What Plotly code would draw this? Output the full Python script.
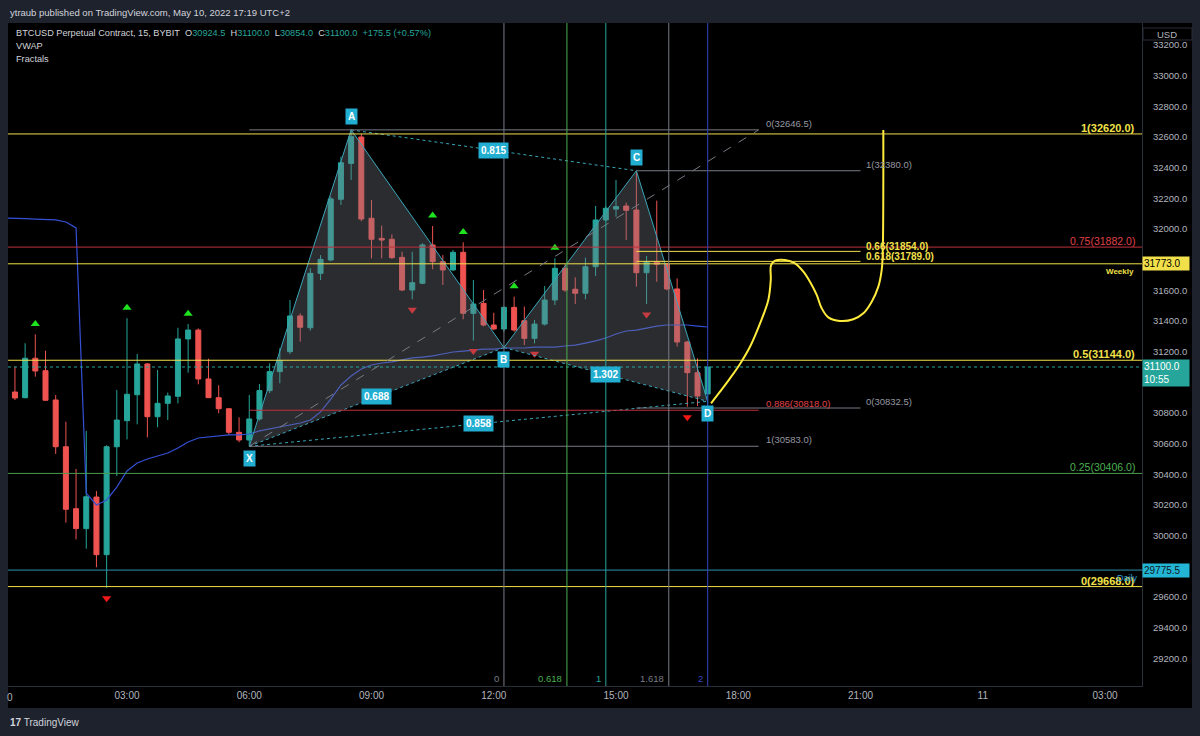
import plotly.graph_objects as go

# ---------------- data ----------------
bar_index = list(range(70))  # 15-minute bars from 00:00 (UTC+2), May 10
open_ = [30820, 30937, 30900, 31157, 31076, 30885, 30580, 30176, 30046, 30252,
         29876, 30580, 30750, 30919, 31120, 30776, 30863, 30909, 31283, 31341,
         31022, 30900, 30828, 30674, 30624, 30761, 30946, 31070, 31200, 31433,
         31356, 31711, 31798, 32194, 32428, 32600, 32070, 31939, 31933, 31815,
         31602, 31646, 31896, 31787, 31733, 31848, 31450, 31515, 31374, 31348,
         31489, 31402, 31287, 31380, 31537, 31744, 31607, 31581, 31754, 32059,
         32130, 32150, 32124, 31715, 31787, 31770, 31609, 31263, 31063, 30924.5]
high = [30960, 31102, 31255, 31313, 31206, 30917, 30743, 30435, 30683, 30291,
        30590, 30950, 31418, 31185, 31125, 31080, 30933, 31356, 31380, 31352,
        31154, 30981, 30830, 30772, 30917, 30989, 31124, 31222, 31537, 31450,
        31744, 31830, 32211, 32472, 32646.5, 32620, 32189, 32022, 31965, 31852,
        31852, 31907, 32020, 31830, 31863, 31913, 31667, 31602, 31454, 31495,
        31559, 31494, 31407, 31628, 31809, 31770, 31685, 31813, 32150, 32150,
        32320, 32172, 32380, 31824, 32185, 31780, 31678, 31270, 31157, 31100]
low = [30800, 30885, 30895, 31037, 30880, 30533, 30085, 29976, 29915, 29794,
       29660, 30389, 30628, 30726, 30641, 30707, 30754, 30863, 31063, 30987,
       30898, 30798, 30657, 30609, 30583, 30750, 30930, 30994, 31185, 31265,
       31337, 31667, 31790, 32157, 32320, 32050, 31809, 31809, 31805, 31595,
       31541, 31640, 31737, 31635, 31725, 31411, 31272, 31365, 31340, 31330,
       31330, 31243, 31254, 31370, 31504, 31590, 31511, 31541, 31693, 32050,
       32080, 31928, 31624, 31511, 31656, 31600, 31233, 30841, 30846, 30854]
close = [30937, 30898, 31157, 31074, 30883, 30580, 30172, 30046, 30254, 29876,
         30580, 30754, 30922, 31120, 30776, 30863, 30911, 31283, 31341, 31022,
         30900, 30828, 30674, 30624, 30761, 30946, 31070, 31142, 31433, 31359,
         31711, 31802, 32196, 32432, 32602, 32065, 31933, 31928, 31813, 31602,
         31650, 31896, 31787, 31733, 31848, 31450, 31511, 31374, 31348, 31489,
         31341, 31287, 31380, 31537, 31744, 31602, 31581, 31754, 32059, 32135,
         32146, 32122, 31715, 31787, 31770, 31609, 31263, 31063, 30911, 31100]
vwap = [32072, 32072, 32068, 32065, 32062, 32059, 32046, 32007, 30278, 30200,
        30233, 30317, 30422, 30474, 30500, 30520, 30539, 30572, 30611, 30637,
        30643, 30650, 30657, 30657, 30663, 30683, 30696, 30709, 30722, 30735,
        30754, 30807, 30891, 30983, 31041, 31087, 31113, 31126, 31133, 31146,
        31159, 31165, 31172, 31185, 31198, 31204, 31211, 31217, 31217, 31224,
        31224, 31224, 31230, 31230, 31230, 31237, 31243, 31256, 31270, 31289,
        31315, 31335, 31341, 31354, 31367, 31374, 31374, 31374, 31367, 31361]
fractal_up_bars = [3, 12, 18, 42, 45, 50, 54]
fractal_down_bars = [10, 40, 46, 52, 63, 67]

pattern_names = ["X", "A", "B", "C", "D"]
pattern_bars = [24, 34, 49, 62, 69]
pattern_prices = [30583.0, 32646.5, 31227.0, 32380.0, 30876.0]
ratio_texts = {"AC": "0.815", "XB": "0.688", "XD": "0.858", "BD": "1.302"}

fib_main_levels = ["1", "0.75", "0.5", "0.25", "0"]
fib_main_prices = [32620.0, 31882.0, 31144.0, 30406.0, 29668.0]
fib_main_colors = ["#f2e04a", "#c0303d", "#f2e04a", "#4a9a4c", "#f2e04a"]
fib_main_label_colors = ["#f2e04a", "#e0404a", "#f2e04a", "#4caf50", "#f2e04a"]

fib_xa_levels = ["0", "0.886", "1"]
fib_xa_prices = [32646.5, 30818.0, 30583.0]
fib_xa_colors = ["#787b86", "#c0303d", "#787b86"]
fib_xa_label_colors = ["#9598a1", "#e0404a", "#9598a1"]
fib_xa_bars = [24, 74]

fib_cd_levels = ["1", "0.66", "0.618", "0"]
fib_cd_prices = [32380.0, 31854.0, 31789.0, 30832.5]
fib_cd_colors = ["#787b86", "#f2e04a", "#f2e04a", "#787b86"]
fib_cd_label_colors = ["#9598a1", "#f2e04a", "#f2e04a", "#9598a1"]
fib_cd_bars = [62, 84]

time_zone_start = 49
time_zone_step = 10
time_zone_levels = [0, 0.618, 1, 1.618, 2]
time_zone_labels = ["0", "0.618", "1", "1.618", "2"]
time_zone_colors = ["#787b86", "#4caf50", "#26a69a", "#787b86", "#3346c4"]

daily_level = 29775.5
weekly_level = 31773.0
last_price = 31100.0

brush_bars = [69.33, 70.21, 71.19, 72.17, 73.15, 74.14, 74.95, 75.19, 75.22, 75.61,
              76.59, 77.57, 78.39, 79.04, 79.70, 80.19, 80.84, 81.99, 83.29, 84.28,
              85.10, 85.75, 86.08, 86.18, 86.24]
brush_prices = [30863, 30939, 31026, 31120, 31232, 31385, 31537, 31667, 31765, 31793,
                31798, 31776, 31722, 31656, 31570, 31483, 31424, 31400, 31411, 31450,
                31526, 31624, 31733, 31842, 32646]

time_tick_bars = [12, 24, 36, 48, 60, 72, 84, 96, 108]
time_tick_text = ["03:00", "06:00", "09:00", "12:00", "15:00", "18:00", "21:00", "11", "03:00"]
price_ticks = list(range(29200, 33201, 200))

# ---------------- style ----------------
W, H = 1200, 736
L, R, T, B = 8, 58, 23, 50
UP, DN = "#26a69a", "#ef5350"
EDGE = "#3aa6b9"
BOX = "#22aed1"
FRAME = "#1e222d"
FONT = "Liberation Sans"
XR = [0.319, 111.63]
YR = [29019.6, 33343.5]
PW, PH = W - L - R, H - T - B


def px_x(px):
    return (px - L) / PW


def px_y(py):
    return (H - B - py) / PH


fig = go.Figure()

fig.add_trace(go.Candlestick(
    x=bar_index, open=open_, high=high, low=low, close=close,
    increasing=dict(line=dict(color=UP, width=1), fillcolor=UP),
    decreasing=dict(line=dict(color=DN, width=1), fillcolor=DN),
    whiskerwidth=0, showlegend=False, hoverinfo="skip"))

fig.add_trace(go.Scatter(x=bar_index, y=vwap, mode="lines",
                         line=dict(color="#3550d6", width=1.2), hoverinfo="skip"))

FOFF = 68
fig.add_trace(go.Scatter(x=fractal_up_bars, y=[high[i] + FOFF for i in fractal_up_bars],
                         mode="markers", marker=dict(symbol="triangle-up", size=8, color="#1ee31e"),
                         hoverinfo="skip"))
fig.add_trace(go.Scatter(x=fractal_down_bars, y=[low[i] - FOFF for i in fractal_down_bars],
                         mode="markers", marker=dict(symbol="triangle-down", size=8, color="#f21818"),
                         hoverinfo="skip"))

P = dict(zip(pattern_names, zip(pattern_bars, pattern_prices)))
for tri in (["X", "A", "B"], ["B", "C", "D"]):
    xs = [P[n][0] for n in tri] + [P[tri[0]][0]]
    ys = [P[n][1] for n in tri] + [P[tri[0]][1]]
    fig.add_trace(go.Scatter(x=xs, y=ys, mode="lines", fill="toself",
                             fillcolor="rgba(120,123,134,0.36)", line=dict(width=0),
                             hoverinfo="skip"))
fig.add_trace(go.Scatter(x=[P[n][0] for n in "XABCD"], y=[P[n][1] for n in "XABCD"],
                         mode="lines", line=dict(color=EDGE, width=1), hoverinfo="skip"))
for a, b in (("X", "B"), ("B", "D"), ("A", "C"), ("X", "D")):
    fig.add_trace(go.Scatter(x=[P[a][0], P[b][0]], y=[P[a][1], P[b][1]], mode="lines",
                             line=dict(color=EDGE, width=1, dash="dot"), hoverinfo="skip"))

fig.add_trace(go.Scatter(x=brush_bars, y=brush_prices, mode="lines",
                         line=dict(color="#ffeb3b", width=2, shape="spline"), hoverinfo="skip"))

shapes = []
ann = []
# black chart frame (plot + axes)
shapes.append(dict(type="rect", xref="paper", yref="paper", x0=px_x(8), x1=px_x(1192),
                   y0=px_y(708), y1=px_y(23), fillcolor="#000000", line=dict(width=0), layer="below"))
# USD unit box on the price axis
shapes.append(dict(type="rect", xref="paper", yref="paper", x0=px_x(1143), x1=px_x(1192),
                   y0=px_y(40), y1=px_y(28), fillcolor="#000000", line=dict(color="#2a2e39", width=1)))

# full-width fib levels
for lv, p, c, lc in zip(fib_main_levels, fib_main_prices, fib_main_colors, fib_main_label_colors):
    shapes.append(dict(type="line", xref="paper", yref="y", x0=0, x1=1, y0=p, y1=p,
                       line=dict(color=c, width=1)))
    ann.append(dict(xref="paper", yref="y", x=px_x(1137), y=p, xanchor="right", yanchor="bottom",
                    text=f"<b>{lv}({p:.1f})</b>" if c == "#f2e04a" else f"{lv}({p:.1f})",
                    showarrow=False, font=dict(color=lc, size=11 if c == "#f2e04a" else 10.5),
                    yshift=-2))

# daily / weekly / last price lines
shapes.append(dict(type="line", xref="paper", yref="y", x0=0, x1=1, y0=daily_level, y1=daily_level,
                   line=dict(color="#2f8fb0", width=1)))
shapes.append(dict(type="line", xref="paper", yref="y", x0=0, x1=1, y0=weekly_level, y1=weekly_level,
                   line=dict(color="#f2e04a", width=1)))
shapes.append(dict(type="line", xref="paper", yref="y", x0=0, x1=1, y0=last_price, y1=last_price,
                   line=dict(color="#26a69a", width=1, dash="dot")))
ann.append(dict(xref="paper", yref="y", x=px_x(1136), y=weekly_level, xanchor="right", yanchor="top",
                text="<b>Weekly</b>", showarrow=False, font=dict(color="#f2e04a", size=8), yshift=-1))
ann.append(dict(xref="paper", yref="y", x=px_x(1140), y=daily_level, xanchor="right", yanchor="top",
                text="Daily", showarrow=False, font=dict(color="#2a9bd6", size=9), yshift=-1))

# XA retracement segment
for lv, p, c, lc in zip(fib_xa_levels, fib_xa_prices, fib_xa_colors, fib_xa_label_colors):
    shapes.append(dict(type="line", xref="x", yref="y", x0=fib_xa_bars[0], x1=fib_xa_bars[1],
                       y0=p, y1=p, line=dict(color=c, width=1)))
    ann.append(dict(xref="x", yref="y", x=fib_xa_bars[1] + 0.5, y=p, xanchor="left", yanchor="bottom",
                    text=f"{lv}({p:.1f})", showarrow=False,
                    font=dict(color=lc, size=9.5), yshift=-1))
shapes.append(dict(type="line", xref="x", yref="y", x0=fib_xa_bars[0], x1=fib_xa_bars[1],
                   y0=fib_xa_prices[-1], y1=fib_xa_prices[0],
                   line=dict(color="#787b86", width=1, dash="dash")))

# CD retracement segment
for lv, p, c, lc in zip(fib_cd_levels, fib_cd_prices, fib_cd_colors, fib_cd_label_colors):
    shapes.append(dict(type="line", xref="x", yref="y", x0=fib_cd_bars[0], x1=fib_cd_bars[1],
                       y0=p, y1=p, line=dict(color=c, width=1)))
    bold = c == "#f2e04a"
    ann.append(dict(xref="x", yref="y", x=fib_cd_bars[1] + 0.3, y=p, xanchor="left", yanchor="bottom",
                    text=f"<b>{lv}({p:.1f})</b>" if bold else f"{lv}({p:.1f})",
                    showarrow=False, font=dict(color=lc, size=10 if bold else 9.5),
                    yshift=-3 if bold else -1))

# fib time zones
for lv, lab, c in zip(time_zone_levels, time_zone_labels, time_zone_colors):
    xv = time_zone_start + lv * time_zone_step
    shapes.append(dict(type="line", xref="x", yref="paper", x0=xv, x1=xv, y0=0, y1=1,
                       line=dict(color=c, width=1)))
    ann.append(dict(xref="x", yref="paper", x=xv, y=px_y(678), xanchor="right", yanchor="middle",
                    text=lab, showarrow=False, font=dict(color=c, size=9.5), xshift=-3))

# pattern point labels
for n in pattern_names:
    up = n in ("A", "C")
    ann.append(dict(xref="x", yref="y", x=P[n][0], y=P[n][1], text=f"<b>{n}</b>", showarrow=False,
                    bgcolor=BOX, font=dict(color="#ffffff", size=10), borderpad=2,
                    yshift=13 if up else -12))
for key, txt in ratio_texts.items():
    a, b = key[0], key[1]
    ann.append(dict(xref="x", yref="y", x=(P[a][0] + P[b][0]) / 2, y=(P[a][1] + P[b][1]) / 2,
                    text=f"<b>{txt}</b>", showarrow=False, bgcolor=BOX,
                    font=dict(color="#ffffff", size=10), borderpad=2))

# price axis labels
ann.append(dict(xref="paper", yref="y", x=1.0, y=last_price, xanchor="left", yanchor="top",
                text="31100.0<br>10:55", showarrow=False, bgcolor="#26a69a", align="left",
                font=dict(color="#ffffff", size=10), width=44, height=24,
                borderpad=1, yshift=8))
ann.append(dict(xref="paper", yref="y", x=1.0, y=weekly_level, xanchor="left", yanchor="middle",
                text=f"{weekly_level:.1f}", showarrow=False, bgcolor="#f2e04a", align="left",
                font=dict(color="#000000", size=10), width=44, borderpad=1))
ann.append(dict(xref="paper", yref="y", x=1.0, y=daily_level, xanchor="left", yanchor="middle",
                text=f"{daily_level:.1f}", showarrow=False, bgcolor="#22b5d4", align="left",
                font=dict(color="#131722", size=10), width=44, borderpad=1))
ann.append(dict(xref="paper", yref="paper", x=px_x(1167), y=px_y(34), text="USD", showarrow=False,
                xanchor="center", yanchor="middle", font=dict(color="#b2b5be", size=9.5)))

# header / legend / footer texts
ann.append(dict(xref="paper", yref="paper", x=px_x(8), y=px_y(12), xanchor="left", yanchor="middle",
                text="ytraub published on TradingView.com, May 10, 2022 17:19 UTC+2", showarrow=False,
                font=dict(color="#d1d4dc", size=9.5)))
G = "#26a69a"
legend_line = (f"BTCUSD Perpetual Contract, 15, BYBIT&nbsp;&nbsp;O<span style='color:{G}'>30924.5</span>"
               f"&nbsp;&nbsp;H<span style='color:{G}'>31100.0</span>&nbsp;&nbsp;L<span style='color:{G}'>30854.0</span>"
               f"&nbsp;&nbsp;C<span style='color:{G}'>31100.0</span>&nbsp;&nbsp;<span style='color:{G}'>+175.5 (+0.57%)</span>")
for txt, py in ((legend_line, 33), ("VWAP", 46), ("Fractals", 59)):
    ann.append(dict(xref="paper", yref="paper", x=px_x(14), y=px_y(py), xanchor="left", yanchor="middle",
                    text=txt, showarrow=False, font=dict(color="#d1d4dc", size=9.2)))
ann.append(dict(xref="paper", yref="paper", x=px_x(10), y=px_y(697), xanchor="center", yanchor="middle",
                text="0", showarrow=False, font=dict(color="#b2b5be", size=10)))
ann.append(dict(xref="paper", yref="paper", x=px_x(8), y=px_y(722), xanchor="left", yanchor="middle",
                text="<b>17</b> TradingView", showarrow=False, font=dict(color="#d1d4dc", size=10)))

fig.update_layout(
    width=W, height=H, margin=dict(l=L, r=R, t=T, b=B),
    paper_bgcolor=FRAME, plot_bgcolor="#000000",
    font=dict(family=FONT, color="#b2b5be", size=10),
    showlegend=False, hovermode=False,
    shapes=shapes, annotations=ann,
    xaxis=dict(range=XR, showgrid=False, zeroline=False, rangeslider=dict(visible=False),
               tickmode="array", tickvals=time_tick_bars, ticktext=time_tick_text,
               ticks="", showline=True, linecolor="#2a2e39",
               tickfont=dict(size=10, color="#b2b5be")),
    yaxis=dict(range=YR, side="right", showgrid=False, zeroline=False,
               tickmode="array", tickvals=price_ticks, ticktext=[f"{v:.1f}" for v in price_ticks],
               ticks="", showline=True, linecolor="#2a2e39", ticklabelstandoff=8,
               tickfont=dict(size=9.5, color="#b2b5be")),
)

fig.write_html("out.html")
